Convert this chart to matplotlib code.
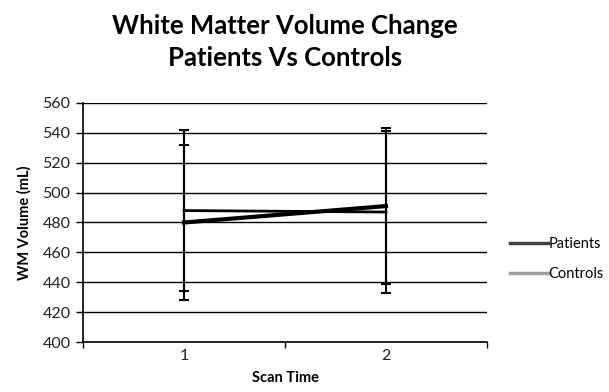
import matplotlib
matplotlib.use("Agg")
import matplotlib.pyplot as plt
from matplotlib.lines import Line2D

scan_times = ["1", "2"]
patients = [480, 491]
patients_err = [52, 52.5]
controls = [488, 487]
controls_err = [54, 54]
y_ticks = [400, 420, 440, 460, 480, 500, 520, 540, 560]

plt.rcParams['font.family'] = ['Lato', 'DejaVu Sans']

fig = plt.figure(figsize=(6.09, 3.92), dpi=100)
ax = fig.add_axes([83/609, 1 - 342/392, (487-83)/609, (342-103)/392])

x = [1, 2]
ax.errorbar(x, controls, yerr=controls_err, color='black', lw=2.0,
            elinewidth=1.5, capsize=3.6, capthick=1.5, zorder=3)
ax.errorbar(x, patients, yerr=patients_err, color='black', lw=3.0,
            elinewidth=1.5, capsize=3.6, capthick=1.5, zorder=4)

ax.set_xlim(0.5, 2.5)
ax.set_ylim(400, 560)
ax.set_yticks(y_ticks)
ax.set_yticklabels([str(v) for v in y_ticks], fontsize=11.5, color='#222222')
for v in y_ticks:
    ax.axhline(v, color='black', lw=1.0, zorder=1)

ax.set_xticks(x)
ax.set_xticklabels(scan_times, fontsize=11.5, color='#222222')
ax.tick_params(axis='x', length=0, pad=5)
ax.set_xticks([0.5, 1.5, 2.5], minor=True)
ax.tick_params(axis='x', which='minor', length=4, width=1, direction='out')
ax.tick_params(axis='y', length=5, width=1, direction='out', pad=4)

for s in ['top', 'right']:
    ax.spines[s].set_visible(False)
ax.spines['left'].set_linewidth(1.2)
ax.spines['bottom'].set_linewidth(1.2)

ax.set_xlabel("Scan Time", fontsize=10.5, fontweight='bold', labelpad=6)
ax.set_ylabel("WM Volume (mL)", fontsize=10.5, fontweight='bold', labelpad=8)

fig.text(0.468, 0.965, "White Matter Volume Change\nPatients Vs Controls",
         ha='center', va='top', fontsize=18.5, fontweight='bold',
         linespacing=1.4)

handles = [Line2D([0], [0], color='#404040', lw=2.5),
           Line2D([0], [0], color='#a0a0a0', lw=2.5)]
fig.legend(handles, ["Patients", "Controls"], loc='center left',
           bbox_to_anchor=(510/609, 1 - 259/392), frameon=False,
           fontsize=10.5, handlelength=2.6, handletextpad=0.05,
           labelspacing=1.1, borderaxespad=0, borderpad=0)

fig.savefig("out.png", dpi=100)
